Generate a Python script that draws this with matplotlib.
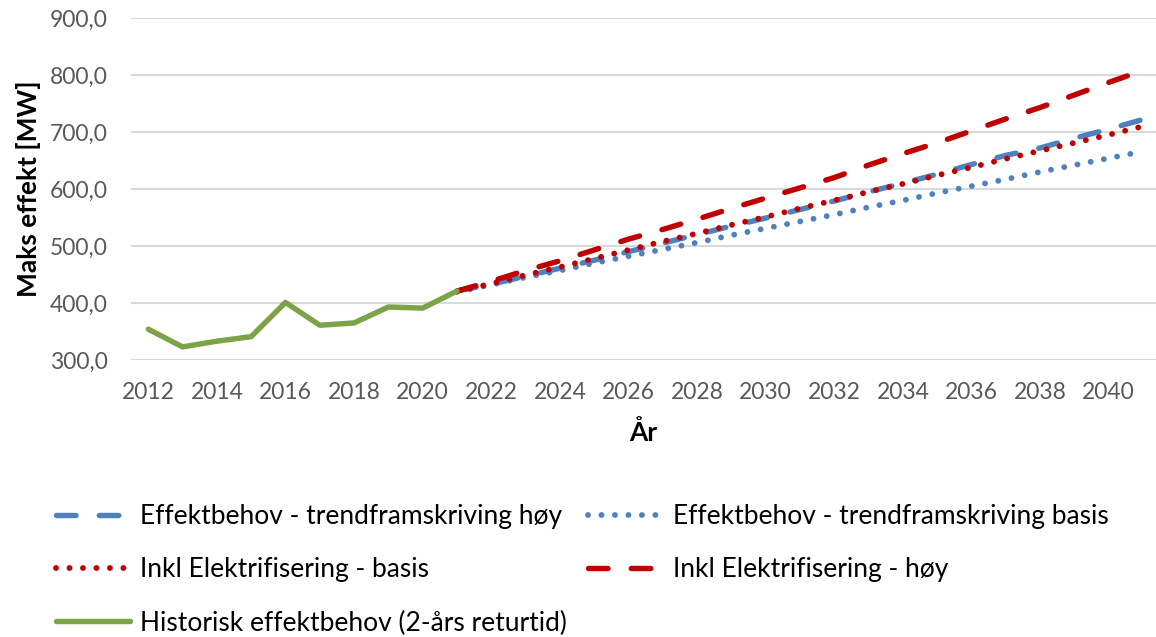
import numpy as np
import matplotlib
matplotlib.use("Agg")
import matplotlib.pyplot as plt
from matplotlib.ticker import FuncFormatter

plt.rcParams['font.family'] = ['Lato', 'DejaVu Sans']

# data (MW)
hist_years = list(range(2012, 2022))
hist_vals = [354, 323, 333, 341, 401, 361, 365, 393, 391, 421]

proj_years = list(range(2021, 2042))
trend_hoy = [421, 433, 447, 461, 475, 490, 505, 520, 535, 549, 564,
             579, 595, 610, 626, 643, 659, 672, 689, 705, 722]
trend_basis = [420, 432, 445, 457, 470, 482, 494, 506, 519, 531, 543,
               555, 568, 580, 593, 605, 617, 630, 642, 654, 666]
elek_basis = [420, 434, 449, 463, 478, 493, 508, 522, 537, 551, 566,
              580, 595, 609, 624, 638, 653, 667, 681, 695, 710]
elek_hoy = [421, 438, 457, 474, 493, 512, 529, 547, 566, 584, 602,
            620, 642, 662, 681, 702, 723, 743, 765, 787, 808]

labels = ["Effektbehov - trendframskriving høy",
          "Effektbehov - trendframskriving basis",
          "Inkl Elektrifisering - basis",
          "Inkl Elektrifisering - høy",
          "Historisk effektbehov (2-års returtid)"]

BLUE = '#4F81BD'
RED = '#C00000'
GREEN = '#7DA348'
GREY = '#595959'

W, H = 1156, 637
fig = plt.figure(figsize=(W / 100, H / 100), dpi=100)
x0, x1 = 131.15, 1156
y_top, y_bot = 18, 360
ax = fig.add_axes([x0 / W, (H - y_bot) / H, (x1 - x0) / W, (y_bot - y_top) / H])

lw = 3.9
dashed = (0, (3.6, 4.3))
dotted = (0, (0.01, 2.3))

l_th, = ax.plot(proj_years, trend_hoy, color=BLUE, lw=lw, ls=dashed,
                dash_capstyle='round')
l_tb, = ax.plot(proj_years, trend_basis, color=BLUE, lw=lw + 0.3, ls=dotted,
                dash_capstyle='round')
l_eb, = ax.plot(proj_years, elek_basis, color=RED, lw=lw + 0.3, ls=dotted,
                dash_capstyle='round')
l_eh, = ax.plot(proj_years, elek_hoy, color=RED, lw=lw, ls=dashed,
                dash_capstyle='round')
l_h, = ax.plot(hist_years, hist_vals, color=GREEN, lw=lw,
               solid_capstyle='round', solid_joinstyle='round')

ax.set_xlim(2011.5, 2011.5 + (x1 - x0) / 34.3)
ax.set_ylim(300, 900)
ax.set_yticks(np.arange(300, 901, 100))
ax.set_xticks(np.arange(2012, 2041, 2))
ax.yaxis.set_major_formatter(FuncFormatter(lambda v, p: f"{v:.1f}".replace('.', ',')))
ax.grid(axis='y', color='#D9D9D9', lw=1.5)
ax.set_axisbelow(True)
for s in ax.spines.values():
    s.set_visible(False)
ax.tick_params(length=0, labelsize=16.5, labelcolor=GREY)
ax.tick_params(axis='y', pad=17)
ax.tick_params(axis='x', pad=16)

ax.set_ylabel("Maks effekt [MW]", fontsize=19, fontweight='bold', labelpad=6)
ax.set_xlabel("År", fontsize=19, fontweight='bold', labelpad=12)

handles = [l_th, l_eb, l_h, l_tb, l_eh]
order = [labels[0], labels[2], labels[4], labels[1], labels[3]]
fig.legend(handles, order, ncol=2, loc='upper left',
           bbox_to_anchor=(56 / W, 1 - 504 / H), frameon=False,
           fontsize=19, handlelength=2.8, handletextpad=0.4,
           columnspacing=0.8, labelspacing=1.07, borderpad=0, borderaxespad=0)

fig.savefig("out.png", dpi=100)
